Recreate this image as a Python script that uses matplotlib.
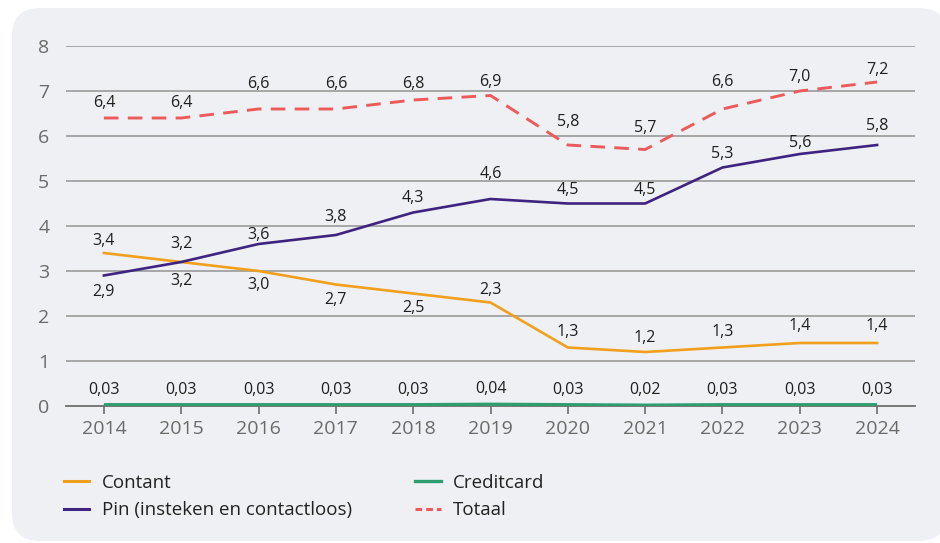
import matplotlib
matplotlib.use("Agg")
import matplotlib.pyplot as plt
from matplotlib.patches import FancyBboxPatch
from matplotlib.lines import Line2D

years = [2014, 2015, 2016, 2017, 2018, 2019, 2020, 2021, 2022, 2023, 2024]
contant = [3.4, 3.2, 3.0, 2.7, 2.5, 2.3, 1.3, 1.2, 1.3, 1.4, 1.4]
pin = [2.9, 3.2, 3.6, 3.8, 4.3, 4.6, 4.5, 4.5, 5.3, 5.6, 5.8]
creditcard = [0.03, 0.03, 0.03, 0.03, 0.03, 0.04, 0.03, 0.02, 0.03, 0.03, 0.03]
totaal = [6.4, 6.4, 6.6, 6.6, 6.8, 6.9, 5.8, 5.7, 6.6, 7.0, 7.2]
contant_lbl = ["3,4", "3,2", "3,0", "2,7", "2,5", "2,3", "1,3", "1,2", "1,3", "1,4", "1,4"]
pin_lbl = ["2,9", "3,2", "3,6", "3,8", "4,3", "4,6", "4,5", "4,5", "5,3", "5,6", "5,8"]
credit_lbl = ["0,03", "0,03", "0,03", "0,03", "0,03", "0,04", "0,03", "0,02", "0,03", "0,03", "0,03"]
totaal_lbl = ["6,4", "6,4", "6,6", "6,6", "6,8", "6,9", "5,8", "5,7", "6,6", "7,0", "7,2"]
names = ["Contant", "Pin (insteken en contactloos)", "Creditcard", "Totaal"]

# label offsets in pixels (positive = up)
off_contant = [12, -19, -14, -15, -14, 13, 15, 14, 15, 17, 17]
off_pin = [-17, 18, 9, 18, 15, 25, 14, 14, 14, 11, 19]
off_credit = [15] * 11
off_totaal = [15, 15, 25, 25, 16, 14, 23, 22, 27, 14, 12]

C_ORANGE = "#f0a01c"
C_PURPLE = "#3f2380"
C_GREEN = "#2e9d70"
C_RED = "#ec5a5a"
BG = "#eff0f4"

plt.rcParams['font.family'] = ['Open Sans', 'DejaVu Sans']

fig = plt.figure(figsize=(9.4, 5.43), dpi=100)
fig.patch.set_facecolor("white")
panel = FancyBboxPatch((12 / 940, 2 / 543), 935 / 940, 533 / 543,
                       boxstyle="round,pad=0,rounding_size=0.03",
                       transform=fig.transFigure, facecolor=BG, edgecolor="none",
                       mutation_aspect=940 / 543, zorder=-10)
fig.patches.append(panel)

ax = fig.add_axes([66 / 940, 1 - 406 / 543, (915 - 66) / 940, 360 / 543])
ax.set_zorder(1)
ax.set_facecolor("none")
ax.set_xlim(2013.51, 2024.49)
ax.set_ylim(0, 8)
for s in ["top", "right", "left"]:
    ax.spines[s].set_visible(False)
ax.spines["bottom"].set_color("#6e6e6e")
ax.spines["bottom"].set_linewidth(1.3)
ax.set_yticks(range(0, 9))
ax.set_xticks(years)
for y in range(1, 9):
    ax.axhline(y, color="#9a9a9a", lw=1.2, zorder=1)
ax.tick_params(axis="y", length=0, pad=12, labelsize=14, labelcolor="#6a6a6a")
ax.tick_params(axis="x", length=6, width=1.2, color="#6e6e6e", pad=4,
               labelsize=14, labelcolor="#6a6a6a")

lw = 1.9
ax.plot(years, contant, color=C_ORANGE, lw=lw, zorder=3)
ax.plot(years, pin, color=C_PURPLE, lw=lw, zorder=3)
ax.plot(years, creditcard, color=C_GREEN, lw=lw + 0.4, zorder=4, solid_capstyle="butt")
ax.plot(years, totaal, color=C_RED, lw=lw + 0.2, dashes=(5, 3.2), zorder=3)

def labels(vals, lbls, offs):
    for x, v, t, o in zip(years, vals, lbls, offs):
        ax.annotate(t, (x, v), xytext=(0, o), textcoords="offset pixels",
                    ha="center", va="center", fontsize=11.5, color="#1e1e1e", zorder=5)

labels(contant, contant_lbl, off_contant)
labels(pin, pin_lbl, off_pin)
labels(creditcard, credit_lbl, off_credit)
labels(totaal, totaal_lbl, off_totaal)

handles = [
    Line2D([], [], color=C_ORANGE, lw=2.2),
    Line2D([], [], color=C_PURPLE, lw=2.2),
    Line2D([], [], color=C_GREEN, lw=2.4),
    Line2D([], [], color=C_RED, lw=2.2, dashes=(2.2, 1.3)),
]
leg = fig.legend(handles, names, loc="upper left", bbox_to_anchor=(64 / 940, 1 - 474 / 543),
                 ncol=2, frameon=False, fontsize=13.5, handlelength=1.35, handletextpad=0.65,
                 columnspacing=3.4, labelspacing=0.5, borderpad=0, borderaxespad=0)
for t in leg.get_texts():
    t.set_color("#222222")

fig.savefig("out.png", dpi=100, facecolor="white")
